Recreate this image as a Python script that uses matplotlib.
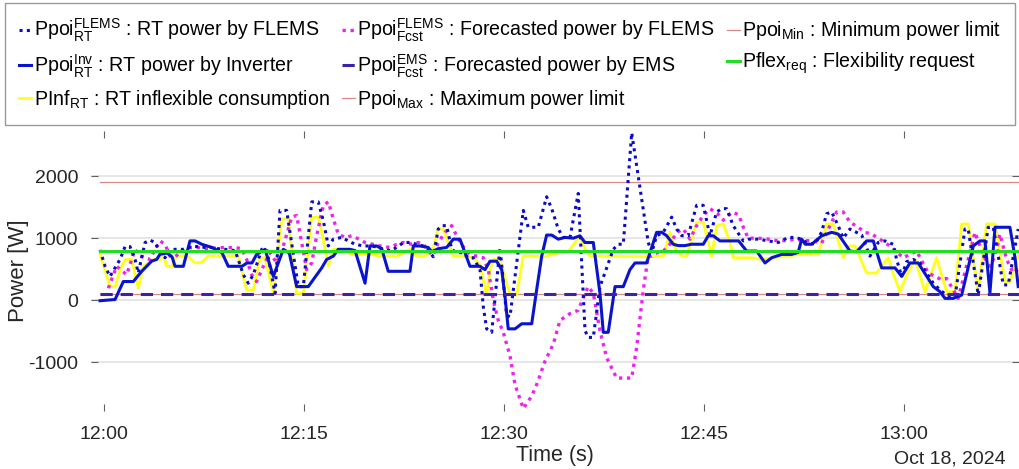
import matplotlib
matplotlib.use('Agg')
import matplotlib.pyplot as plt
import matplotlib.dates as mdates
from datetime import datetime, timedelta

plt.rcParams['font.family'] = ['Liberation Sans', 'DejaVu Sans']
plt.rcParams['mathtext.fontset'] = 'custom'
plt.rcParams['mathtext.rm'] = 'Liberation Sans'
plt.rcParams['mathtext.it'] = 'Liberation Sans:italic'
plt.rcParams['mathtext.bf'] = 'Liberation Sans:bold'
plt.rcParams['axes.unicode_minus'] = False

# ---------------- data (minutes after 12:00, power in W) ----------------
t_flems_rt = [-0.30, 0.08, 0.45, 1.2, 1.58, 1.95, 2.33, 2.57, 3.08, 3.45, 3.83, 4.2, 4.58, 4.95, 5.57,
              5.95, 6.58, 7.07, 7.58, 8.08, 8.57, 9.08, 9.83, 10.07, 10.45, 10.82, 11.2, 11.83, 12.2,
              12.83, 13.2, 13.7, 14.57, 14.95, 15.58, 16.07, 16.45, 16.82, 17.2, 17.83, 18.32, 18.83,
              19.45, 19.95, 20.45, 20.95, 21.45, 21.95, 22.45, 22.95, 23.45, 23.95, 24.45, 24.7, 25.07,
              25.33, 25.7, 26.08, 26.45, 26.95, 27.32, 27.7, 28.2, 28.45, 28.7, 29.08, 29.45, 29.7,
              29.95, 30.2, 30.45, 31.45, 31.82, 32.57, 33.2, 33.58, 34.07, 34.45, 34.95, 35.57, 36.08,
              36.32, 36.7, 37.2, 38.2, 38.57, 38.95, 39.58, 40.82, 41.08, 41.45, 41.95, 42.58, 42.95,
              43.33, 43.82, 44.45, 44.95, 45.45, 45.95, 46.33, 46.7, 47.2, 47.95, 48.32, 49.07, 49.82,
              50.57, 51.32, 51.83, 52.33, 52.7, 53.33, 53.83, 54.2, 54.58, 55.07, 55.45, 55.95, 56.83,
              57.45, 58.07, 58.58, 59.2, 59.45, 59.83, 60.2, 60.7, 61.2, 62.2, 62.7, 63.2, 63.83, 64.58,
              64.82, 65.57, 66.32, 66.7, 67.45, 67.82, 68.57]
p_flems_rt = [810, 546, 382, 656, 864, 864, 656, 438, 930, 968, 930, 766, 684, 820, 820,
              820, 864, 864, 850, 850, 830, 820, 800, 656, 410, 273, 410, 820, 820,
              110, 1448, 1448, 218, 218, 1586, 1586, 1284, 874, 984, 1012, 956, 902,
              874, 874, 860, 820, 800, 848, 930, 930, 902, 874, 766, 700, 1148,
              1202, 1202, 820, 766, 766, 684, 684, 492, -110, -464, -520, 300, 848,
              300, -246, -270, 1448, 1176, 1176, 1668, 1476, 1148, 1012, 1012, 1722, -492,
              -602, -602, 218, 820, 902, 902, 2700, 930, 766, 1038, 1094, 1340, 1148,
              1040, 1040, 1530, 1530, 1038, 1422, 1476, 1476, 1200, 956, 984, 984, 956,
              930, 1012, 1012, 984, 930, 902, 1100, 1394, 1422, 1200, 1000, 1148, 1050,
              710, 930, 956, 900, 656, 382, 620, 656, 600, 273, 164, 82, 54, 1148,
              1148, 82, 1176, 1176, 246, 246, 1148]

t_inv_rt = [-0.30, 0.83, 1.45, 2.2, 2.83, 3.58, 3.95, 4.2, 4.73, 5.1, 5.33, 5.95, 6.45, 6.83, 7.35,
            8.1, 8.85, 9.32, 10.35, 10.73, 11.1, 11.45, 12.08, 12.7, 13.45, 13.9, 14.45, 15.32, 16.33,
            16.7, 17.2, 17.57, 18.45, 18.83, 19.58, 19.95, 20.45, 20.83, 21.32, 22.2, 22.95, 23.2,
            23.7, 24.32, 24.58, 25.07, 25.7, 26.2, 26.7, 27.45, 28.2, 28.58, 28.95, 29.45, 29.83,
            30.08, 30.32, 30.83, 31.33, 32.08, 32.45, 32.83, 33.2, 33.58, 34.07, 34.58, 35.2, 35.7,
            36.08, 36.7, 37.2, 37.45, 37.82, 38.33, 38.95, 39.45, 39.83, 40.7, 41.45, 41.83, 42.2,
            42.7, 43.07, 43.58, 44.08, 44.95, 45.32, 45.7, 46.2, 47.08, 47.6, 48.2, 48.95, 49.58,
            50.08, 50.83, 51.58, 52.07, 52.33, 52.6, 53.08, 53.83, 54.58, 55.07, 55.95, 56.45, 57.2,
            57.7, 58.33, 59.33, 59.83, 60.45, 61.07, 62.2, 62.7, 63.08, 63.7, 64.33, 65.2, 65.7,
            66.08, 66.45, 66.83, 67.45, 67.95, 68.33, 68.57]
p_inv_rt = [-10, 10, 300, 300, 465, 630, 656, 740, 760, 700, 546, 546, 956, 956, 900,
            850, 766, 546, 546, 600, 600, 738, 820, 382, 820, 760, 218, 218, 520,
            656, 710, 820, 820, 800, 273, 874, 874, 830, 465, 465, 465, 874,
            874, 850, 780, 830, 850, 984, 984, 546, 546, 492, 628, 628, 492,
            54, -464, -464, -382, -382, 164, 710, 1050, 1050, 984, 1012, 1000, 1038,
            930, 930, 110, -520, -520, 218, 218, 492, 600, 600, 1094, 1094, 1040,
            902, 880, 880, 902, 902, 1038, 1038, 956, 956, 956, 792, 792, 600,
            684, 738, 738, 770, 984, 902, 902, 1038, 1094, 1066, 792, 780, 956,
            956, 520, 520, 382, 600, 600, 218, 136, 28, 28, 82, 874, 956,
            956, 120, 1176, 1176, 1176, 684, 218]

t_flems_fcst = [0.32, 0.95, 1.70, 2.33, 2.7, 3.45, 3.83, 4.2, 4.58, 4.95, 5.33, 5.83, 6.32, 7.07, 7.58,
                8.33, 9.08, 9.83, 10.33, 10.7, 11.08, 11.45, 11.95, 12.45, 12.95, 13.45, 14.08, 14.45,
                15.2, 15.58, 15.95, 16.45, 16.82, 17.2, 17.57, 18.08, 18.58, 19.07, 19.58, 20.2, 20.7,
                21.45, 21.95, 22.45, 23.08, 23.57, 23.95, 24.45, 24.7, 25.07, 25.58, 26.08, 26.57,
                26.95, 27.45, 27.95, 28.45, 28.82, 29.2, 29.57, 29.95, 30.45, 30.83, 31.45, 32.08,
                32.45, 33.08, 33.7, 34.2, 34.95, 35.57, 36.08, 36.32, 36.7, 37.2, 37.7, 38.45, 39.58,
                39.95, 40.45, 40.82, 41.08, 41.45, 41.95, 42.45, 42.95, 43.45, 43.95, 44.45, 44.95,
                45.45, 46.0, 46.45, 47.1, 47.6, 48.0, 48.32, 49.07, 49.82, 50.45, 51.08, 51.83, 52.58,
                53.2, 53.83, 54.45, 54.95, 55.45, 55.95, 56.57, 57.08, 57.58, 58.07, 58.95, 59.95,
                60.95, 61.82, 62.83, 63.2, 64.07, 64.82, 65.33, 66.0, 66.45, 66.83, 67.2, 67.7, 68.2,
                68.57]
p_flems_fcst = [192, 546, 410, 820, 710, 656, 820, 956, 900, 710, 700, 792, 848, 848, 830,
                840, 848, 848, 830, 656, 410, 300, 546, 766, 600, 874, 1340, 1366,
                492, 600, 1038, 1530, 1586, 1312, 1066, 1012, 1038, 990, 930, 900, 874,
                850, 900, 930, 902, 930, 902, 766, 720, 930, 1094, 1202, 984,
                860, 738, 710, 684, 492, 0, -328, -520, -900, -1366, -1750, -1550,
                -1366, -984, -710, -328, -218, -164, 110, 218, 110, -492, -930, -1258, -1258,
                -766, 164, 710, 710, 760, 792, 902, 1094, 1148, 984, 1202, 1366,
                1476, 1400, 1290, 1420, 1380, 1150, 1000, 1000, 984, 960, 960, 984, 960,
                956, 920, 1202, 1422, 1422, 1258, 1176, 1094, 1066, 1000, 874, 684,
                792, 438, 328, 350, 28, 656, 1094, 700, 546, 710, 1066, 656, 438,
                500]

t_inf_rt = [-0.30, 0.08, 0.45, 0.83, 1.2, 1.58, 2.08, 2.57, 2.95, 3.7, 4.2, 4.45, 4.7, 5.08, 5.45,
            5.95, 6.32, 6.83, 7.33, 7.82, 9.32, 10.07, 10.7, 11.2, 11.7, 12.08, 12.7, 13.33, 13.82,
            14.45, 14.95, 15.58, 16.07, 16.45, 16.82, 17.2, 17.57, 18.08, 18.58, 19.95, 20.83, 21.95,
            22.45, 22.95, 23.08, 23.57, 24.08, 24.7, 25.07, 25.45, 26.2, 26.83, 27.7, 28.2, 28.7,
            28.95, 29.2, 29.7, 30.45, 30.95, 31.45, 32.08, 33.08, 33.58, 34.2, 34.82, 35.7, 36.08,
            36.45, 40.7, 41.95, 42.45, 42.83, 43.33, 43.7, 44.45, 44.95, 45.58, 45.95, 46.45, 47.0,
            47.2, 48.58, 49.33, 50.83, 52.33, 53.57, 54.2, 54.7, 55.45, 55.82, 56.33, 57.2, 57.95,
            58.82, 59.2, 59.7, 60.2, 60.83, 61.58, 62.45, 63.2, 63.83, 64.33, 64.82, 65.57, 66.2,
            66.83, 67.58, 67.95, 68.57]
p_inf_rt = [738, 492, 218, 218, 492, 656, 656, 192, 546, 656, 656, 738, 546, 546, 710,
            710, 700, 600, 610, 710, 710, 710, 164, 164, 684, 684, 110, 1312, 1312,
            110, 110, 1340, 1340, 984, 546, 820, 820, 792, 738, 738, 710, 710,
            760, 820, 738, 710, 710, 850, 1148, 1148, 710, 710, 684, 574, 82,
            492, 656, 656, 82, 82, 710, 710, 700, 740, 766, 780, 1038, 820,
            710, 700, 710, 1094, 848, 710, 710, 1258, 1258, 710, 1200, 1230, 900,
            684, 684, 656, 700, 738, 738, 1230, 1230, 684, 874, 874, 438, 438,
            684, 420, 136, 400, 656, 136, 684, 136, 136, 1230, 1230, 136, 1230,
            1230, 300, 300, 710]

t_const = [-0.30, 68.6]
p_max = [1900, 1900]
p_min = [100, 100]
p_ems_fcst = [100, 100]
p_flex_req = [800, 800]

labels = [r'$\mathrm{Ppoi}^{\mathrm{FLEMS}}_{\mathrm{RT}}$ : RT power by FLEMS',
          r'$\mathrm{Ppoi}^{\mathrm{Inv}}_{\mathrm{RT}}$ : RT power by Inverter',
          r'$\mathrm{PInf}_{\mathrm{RT}}$ : RT inflexible consumption',
          r'$\mathrm{Ppoi}^{\mathrm{FLEMS}}_{\mathrm{Fcst}}$ : Forecasted power by FLEMS',
          r'$\mathrm{Ppoi}^{\mathrm{EMS}}_{\mathrm{Fcst}}$ : Forecasted power by EMS',
          r'$\mathrm{Ppoi}_{\mathrm{Max}}$ : Maximum power limit',
          r'$\mathrm{Ppoi}_{\mathrm{Min}}$ : Minimum power limit',
          r'$\mathrm{Pflex}_{\mathrm{req}}$ : Flexibility request']

base = datetime(2024, 10, 18, 12, 0)


def to_dt(mins):
    return [base + timedelta(minutes=m) for m in mins]


fig = plt.figure(figsize=(10.2, 4.69), dpi=100)
W, H = 1020, 469
ax = fig.add_axes([91 / W, 1 - 411 / H, (1019 - 91) / W, (411 - 131) / H])

h_max, = ax.plot(to_dt(t_const), p_max, color='#D98A86', lw=0.9, zorder=2)
h_min, = ax.plot(to_dt(t_const), p_min, color='#D98A86', lw=0.9, zorder=2)
h_inf, = ax.plot(to_dt(t_inf_rt), p_inf_rt, color='#FFFF1A', lw=2.0, zorder=3)
h_fcst, = ax.plot(to_dt(t_flems_fcst), p_flems_fcst, color='#EE22EE', lw=2.4, ls=(0, (1, 1.4)), zorder=4)
h_inv, = ax.plot(to_dt(t_inv_rt), p_inv_rt, color='#0A14CC', lw=2.2, zorder=5)
h_rt, = ax.plot(to_dt(t_flems_rt), p_flems_rt, color='#0A0AC8', lw=2.2, ls=(0, (1, 1.4)), zorder=6)
h_ems, = ax.plot(to_dt(t_const), p_ems_fcst, color='#3A22AA', lw=2.2, ls=(0, (4, 2.6)), zorder=7)
h_flex, = ax.plot(to_dt(t_const), p_flex_req, color='#22DD22', lw=2.2, zorder=8)

ax.set_xlim(base + timedelta(minutes=-0.975), base + timedelta(minutes=68.63))
ax.set_ylim(-1790, 2730)
ax.set_yticks([-1000, 0, 1000, 2000])
ax.xaxis.set_major_locator(mdates.MinuteLocator(byminute=[0, 15, 30, 45]))
ax.xaxis.set_major_formatter(mdates.DateFormatter('%H:%M'))
ax.grid(axis='y', color='#E4E4E4', lw=1.3)
ax.set_axisbelow(True)
for s in ax.spines.values():
    s.set_visible(False)
ax.tick_params(axis='both', direction='in', length=5, width=0.8, color='#606060',
               top=True, right=True, labelsize=14, labelcolor='#262626')
ax.tick_params(axis='x', pad=11)
ax.tick_params(axis='y', pad=9)
ax.set_ylabel('Power [W]', fontsize=16, color='#262626')
ax.yaxis.set_label_coords((29 - 91) / (1019 - 91), 0.5)
ax.set_xlabel('Time (s)', fontsize=15.5, color='#262626', labelpad=1)
fig.text(1006 / W, 1 - 463 / H, 'Oct 18, 2024', ha='right', va='baseline', fontsize=14, color='#262626')

handles = [h_rt, h_inv, h_inf, h_fcst, h_ems, h_max, h_min, h_flex]
leg = fig.legend(handles, labels, ncol=3, loc='upper left',
                 bbox_to_anchor=(5 / W, 1 - 123 / H, 1010 / W, 120 / H), mode='expand',
                 fontsize=14.1, frameon=True, fancybox=False, framealpha=1, edgecolor='#999999',
                 handlelength=0.65, handletextpad=0.12, columnspacing=0.2, borderpad=0.7,
                 labelspacing=0.42, borderaxespad=0)
leg.get_frame().set_linewidth(1.0)

fig.savefig('out.png', dpi=100)
